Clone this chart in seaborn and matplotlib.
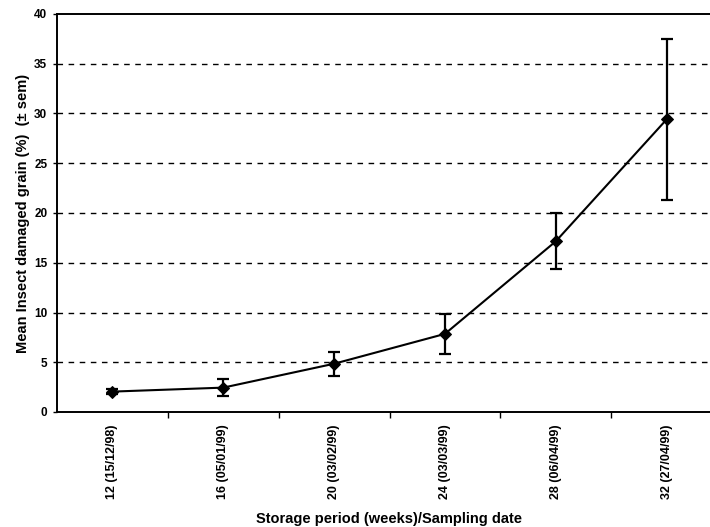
import matplotlib
matplotlib.use("Agg")
import matplotlib.pyplot as plt
from matplotlib import font_manager as fm
import seaborn as sns
import numpy as np
import pandas as pd

categories = ["12 (15/12/98)", "16 (05/01/99)", "20 (03/02/99)",
              "24 (03/03/99)", "28 (06/04/99)", "32 (27/04/99)"]
mean_damage = [2.05, 2.45, 4.85, 7.85, 17.15, 29.4]
sem_damage = [0.25, 0.85, 1.2, 2.0, 2.8, 8.1]
y_ticks = [0, 5, 10, 15, 20, 25, 30, 35, 40]

sns.set_theme(style="white")
plt.rcParams['font.family'] = ['Liberation Sans', 'DejaVu Sans']
plt.rcParams['text.color'] = 'black'
plt.rcParams['axes.labelcolor'] = 'black'
plt.rcParams['xtick.color'] = 'black'
plt.rcParams['ytick.color'] = 'black'

# pick the regular-width Liberation Sans Bold file
bold_path = None
for f in fm.findSystemFonts():
    name = f.split("/")[-1]
    if name == "LiberationSans-Bold.ttf":
        bold_path = f
        break
if bold_path:
    def fp(size):
        return fm.FontProperties(fname=bold_path, size=size)
else:
    def fp(size):
        return fm.FontProperties(family="DejaVu Sans", weight="bold", size=size)

df = pd.DataFrame({"pos": np.arange(len(categories)), "cat": categories,
                   "mean": mean_damage, "sem": sem_damage})

fig = plt.figure(figsize=(7.10, 5.27), dpi=100)
ax = fig.add_axes([57/710, 1 - 412/527, (722 - 57)/710, (412 - 14)/527])

for yv in y_ticks[1:-1]:
    ax.axhline(yv, color="black", lw=1.0, ls=(0, (4, 4)), zorder=1)

ax.errorbar(df["pos"], df["mean"], yerr=df["sem"], fmt="none",
            ecolor="black", elinewidth=1.6, capsize=4, capthick=1.6, zorder=3)
sns.lineplot(data=df, x="pos", y="mean", ax=ax, color="black", lw=1.5,
             marker="D", markersize=6, markeredgecolor="black", zorder=4)

ax.set_xlim(-0.5, len(categories) - 0.5)
ax.set_ylim(0, 40)
ax.set_yticks(y_ticks)
ax.set_yticklabels([str(v) for v in y_ticks])
for lab in ax.get_yticklabels():
    lab.set_fontproperties(fp(8.5))
    lab.set_color("black")
ax.set_xticks(df["pos"])
ax.set_xticklabels(categories, rotation=90)
for lab in ax.get_xticklabels():
    lab.set_fontproperties(fp(9))
    lab.set_color("black")
ax.set_xticks(np.arange(len(categories)) + 0.5, minor=True)
ax.tick_params(axis="x", which="major", length=0, pad=9)
ax.tick_params(axis="x", which="minor", length=4, width=1, direction="out", color="black", bottom=True)
ax.tick_params(axis="y", length=3, width=1, direction="out", color="black", left=True, pad=4)

for s in ["left", "bottom", "top"]:
    ax.spines[s].set_color("black")
    ax.spines[s].set_linewidth(1.4)
ax.spines["right"].set_visible(False)

ax.set_xlabel("Storage period (weeks)/Sampling date", fontproperties=fp(10.5),
              labelpad=9, color="black")
ax.set_ylabel("Mean Insect damaged grain (%)  (± sem)", fontproperties=fp(10.5),
              labelpad=3, color="black")

fig.savefig("out.png", dpi=100)
